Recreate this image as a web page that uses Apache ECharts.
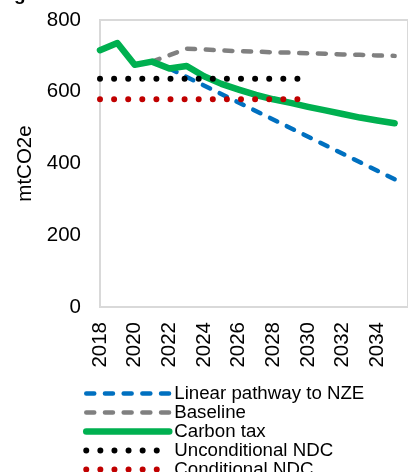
<!DOCTYPE html>
<html>
<head>
<meta charset="utf-8">
<script src="https://cdn.jsdelivr.net/npm/echarts@6/dist/echarts.min.js"></script>
<style>
html,body{margin:0;padding:0;background:#fff;overflow:hidden;}
#chart{width:408px;height:500px;}
</style>
</head>
<body>
<div id="chart"></div>
<script>
// Data
const xTicks = [2018, 2020, 2022, 2024, 2026, 2028, 2030, 2032, 2034];
const yTicks = [0, 200, 400, 600, 800];

const nzeYears = [2022, 2035];
const nzeValues = [665, 356];

const baselineYears = [2021, 2022, 2023, 2024, 2025, 2026, 2027, 2028, 2029, 2030, 2031, 2032, 2033, 2034, 2035];
const baselineValues = [684, 702, 720, 718, 715, 713, 712, 710, 709, 707, 706, 704, 703, 701, 700];

const taxYears = [2018, 2019, 2020, 2021, 2022, 2023, 2024, 2025, 2026, 2027, 2028, 2029, 2030, 2031, 2032, 2033, 2034, 2035];
const taxValues = [716, 736, 675, 684, 665, 672, 643, 622, 606, 591, 579, 569, 558, 548, 538, 528, 520, 512];

const ndcYears = [2018, 2030];
const uncondValues = [636, 636];
const condValues = [579, 579];

const seriesNames = ['Linear pathway to NZE', 'Baseline', 'Carbon tax', 'Unconditional NDC', 'Conditional NDC'];

function pairs(xs, ys) { return xs.map((x, i) => [x, ys[i]]); }

const chart = echarts.init(document.getElementById('chart'), null, {renderer: 'canvas'});
const font = 'Liberation Sans, Arial, sans-serif';
const axisFont = 20.5;

const option = {
  animation: false,
  backgroundColor: '#ffffff',
  textStyle: {fontFamily: font},
  graphic: [{
    type: 'text', left: 14, top: -15,
    style: {text: 'g', font: 'bold 19px ' + font, fill: '#000'}
  }],
  grid: {
    left: 100, right: -3, top: 20, bottom: 193,
    show: true, borderColor: '#D9D9D9', borderWidth: 2, containLabel: false
  },
  xAxis: {
    type: 'value', min: 2018, max: 2035.77, interval: 2,
    axisLine: {show: true, lineStyle: {color: '#D9D9D9', width: 2}},
    axisTick: {show: false},
    splitLine: {show: false},
    axisLabel: {
      rotate: 90, margin: 15, color: '#000', fontSize: axisFont, fontFamily: font,
      formatter: function (v) { return xTicks.indexOf(v) >= 0 ? String(v) : ''; },
      showMaxLabel: false
    }
  },
  yAxis: {
    type: 'value', min: 0, max: 800, interval: 200,
    name: 'mtCO2e', nameLocation: 'middle', nameRotate: 90, nameGap: 64,
    nameTextStyle: {color: '#000', fontSize: axisFont, fontFamily: font},
    axisLine: {show: true, lineStyle: {color: '#D9D9D9', width: 2}},
    axisTick: {show: false},
    splitLine: {show: false},
    axisLabel: {
      margin: 19, color: '#000', fontSize: axisFont, fontFamily: font,
      formatter: function (v) { return yTicks.indexOf(v) >= 0 ? String(v) : ''; }
    }
  },
  legend: {
    orient: 'vertical', left: 78, top: 379,
    itemWidth: 83, itemHeight: 14, itemGap: 0,
    itemStyle: {color: 'transparent', borderWidth: 0, opacity: 0},
    lineStyle: {width: 'inherit', type: 'inherit', cap: 'inherit'},
    textStyle: {fontSize: 18.7, lineHeight: 19, color: '#000', fontFamily: font},
    data: seriesNames
  },
  series: [
    {
      name: seriesNames[0], type: 'line', data: pairs(nzeYears, nzeValues),
      showSymbol: false, symbol: 'none', color: '#0070C0',
      lineStyle: {color: '#0070C0', width: 4.5, type: [8, 10.7], cap: 'round'}
    },
    {
      name: seriesNames[1], type: 'line', data: pairs(baselineYears, baselineValues),
      showSymbol: false, symbol: 'none', color: '#808080',
      lineStyle: {color: '#808080', width: 4.5, type: [8, 10.7], cap: 'round'}
    },
    {
      name: seriesNames[2], type: 'line', data: pairs(taxYears, taxValues),
      showSymbol: false, symbol: 'none', color: '#00B050',
      lineStyle: {color: '#00B050', width: 6.5, cap: 'round', join: 'round'}
    },
    {
      name: seriesNames[3], type: 'line', data: pairs(ndcYears, uncondValues),
      showSymbol: false, symbol: 'none', color: '#000000',
      lineStyle: {color: '#000000', width: 6, type: [0, 14.1], cap: 'round'}
    },
    {
      name: seriesNames[4], type: 'line', data: pairs(ndcYears, condValues),
      showSymbol: false, symbol: 'none', color: '#C00000',
      lineStyle: {color: '#C00000', width: 6, type: [0, 14.1], cap: 'round'}
    }
  ]
};
chart.setOption(option);
</script>
</body>
</html>
